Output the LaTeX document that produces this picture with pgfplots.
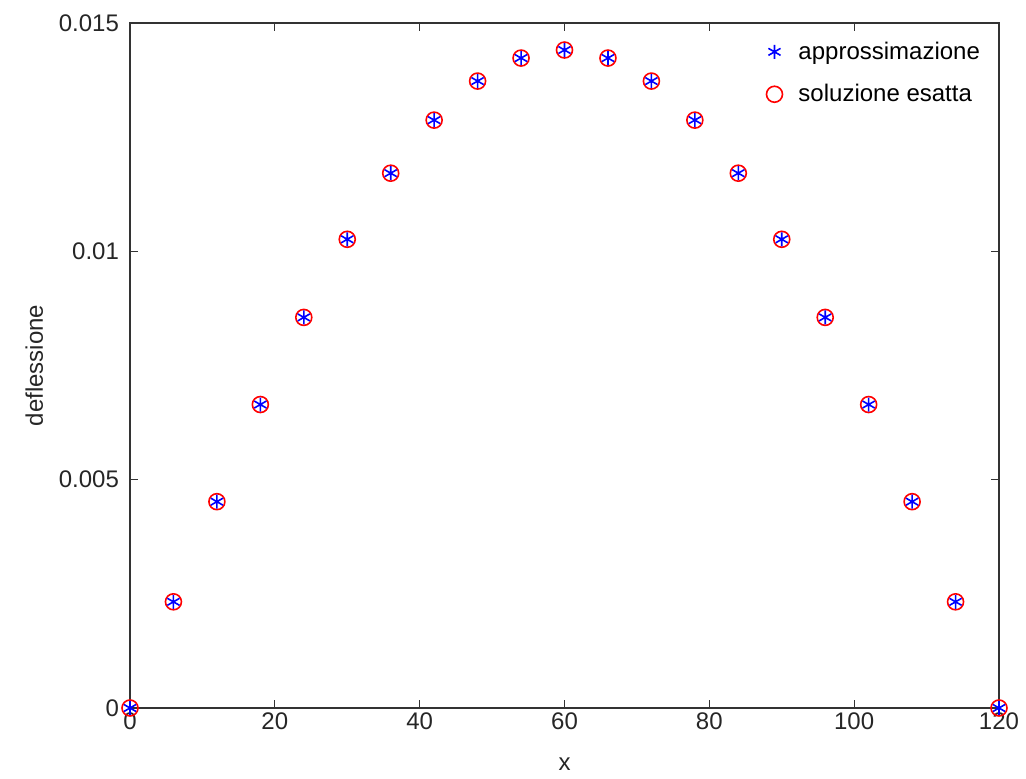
\documentclass[border=0pt]{standalone}
\usepackage{fontspec}
\setmainfont{Liberation Sans}
\usepackage{pgfplots}
\pgfplotsset{compat=1.18}

\begin{document}
\begin{tikzpicture}[x=1pt,y=1pt]
\path[use as bounding box] (-65,-35.5) rectangle (448,354);
\begin{axis}[
  at={(0,0)}, anchor=origin,
  scale only axis, width=434.5pt, height=342.5pt,
  xmin=0, xmax=120, ymin=0, ymax=0.015,
  xtick={0,20,...,120}, ytick={0,0.005,0.01,0.015},
  scaled y ticks=false,
  yticklabels={0,0.005,0.01,0.015},
  tick align=inside, major tick length=4pt,
  axis line style={line width=0.8pt, black!80},
  tick style={black!80, line width=0.6pt},
  ticklabel style={font=\fontsize{12}{14}\selectfont, text=black!85},
  xticklabel style={yshift=1pt},
  yticklabel style={xshift=-2pt},
  /pgf/number format/assume math mode=true,
  xlabel={x}, ylabel={deflessione},
  label style={font=\fontsize{12}{14}\selectfont, text=black!85},
  xlabel style={yshift=-7pt},
  ylabel style={yshift=1pt},
  clip=false,
  legend style={draw=none, fill=none, at={(0.99,0.985)}, anchor=north east,
    font=\fontsize{12}{14}\selectfont, row sep=7pt},
  reverse legend,
  legend cell align=left,
]
\addplot[only marks, mark=o, red, mark size=4pt, line width=0.8pt] coordinates {
(0,0) (6,0.002325) (12,0.004518) (18,0.006645) (24,0.008553) (30,0.010263)
(36,0.011711) (42,0.012873) (48,0.013728) (54,0.014232) (60,0.014408)
(66,0.014232) (72,0.013728) (78,0.012873) (84,0.011711) (90,0.010263)
(96,0.008553) (102,0.006645) (108,0.004518) (114,0.002325) (120,0)
};
\addlegendentry{\hspace{6pt}soluzione esatta}
\addplot[only marks, mark=asterisk, blue, mark size=3.5pt, line width=0.8pt] coordinates {
(0,0) (6,0.002325) (12,0.004518) (18,0.006645) (24,0.008553) (30,0.010263)
(36,0.011711) (42,0.012873) (48,0.013728) (54,0.014232) (60,0.014408)
(66,0.014232) (72,0.013728) (78,0.012873) (84,0.011711) (90,0.010263)
(96,0.008553) (102,0.006645) (108,0.004518) (114,0.002325) (120,0)
};
\addlegendentry{\hspace{6pt}approssimazione}
\end{axis}
\end{tikzpicture}
\end{document}
